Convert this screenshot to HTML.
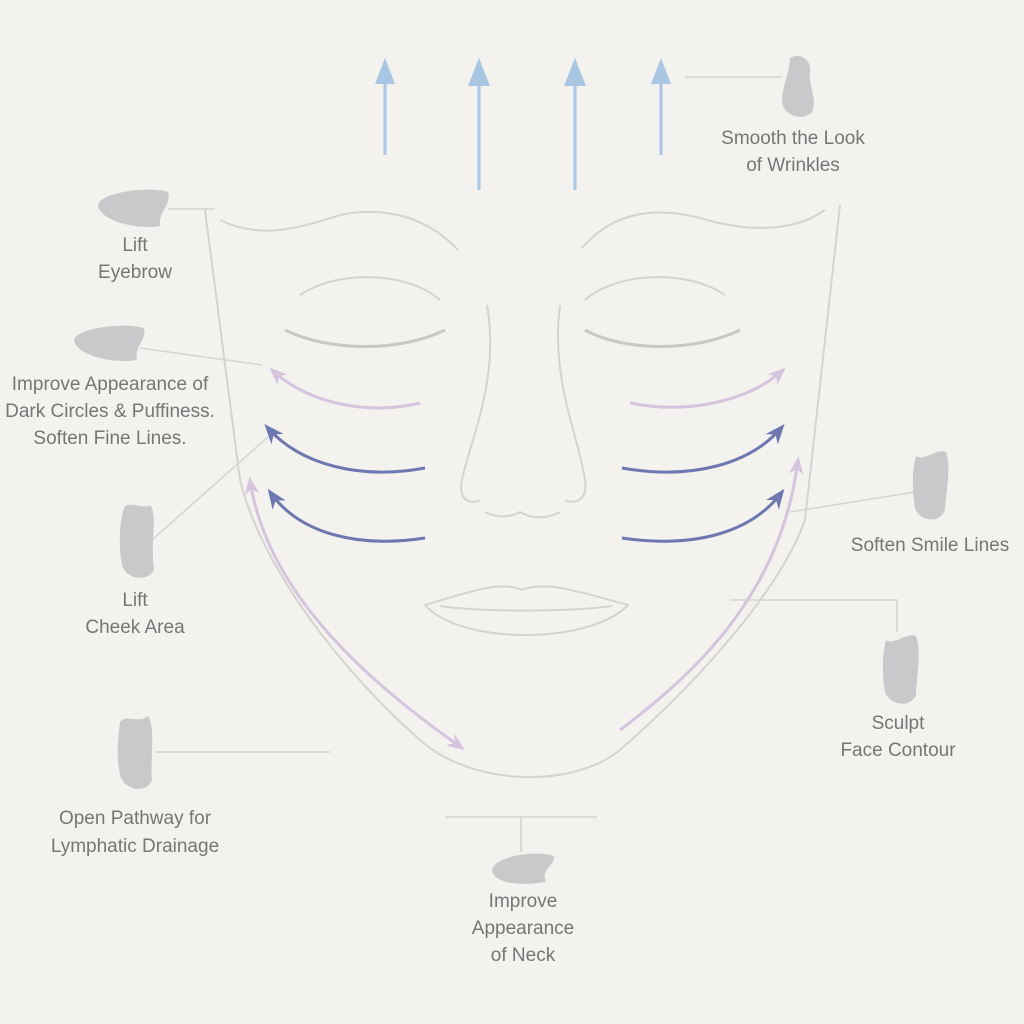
<!DOCTYPE html>
<html><head><meta charset="utf-8"><style>
html,body{margin:0;padding:0;background:#f3f2ee;}
svg{display:block}
text{font-family:"Liberation Sans",sans-serif;font-size:19px;fill:#767676;text-anchor:middle;}
</style></head><body>
<svg width="1024" height="1024" viewBox="0 0 1024 1024" xmlns="http://www.w3.org/2000/svg">
<defs>
<marker id="mb" viewBox="0 0 10 10" refX="8" refY="5" markerWidth="7" markerHeight="7" orient="auto-start-reverse" markerUnits="userSpaceOnUse"><path d="M0,0 L10,5 L0,10 z" fill="#a9c6e4"/></marker>
<marker id="mp" viewBox="0 0 10 10" refX="8" refY="5" markerWidth="18" markerHeight="18" orient="auto-start-reverse" markerUnits="userSpaceOnUse"><path d="M0,1 L10,5 L0,9 L3,5 z" fill="#d6c3de"/></marker>
<marker id="md" viewBox="0 0 10 10" refX="8" refY="5" markerWidth="20" markerHeight="20" orient="auto-start-reverse" markerUnits="userSpaceOnUse"><path d="M0,1 L10,5 L0,9 L3,5 z" fill="#6e78b0"/></marker>
</defs>
<rect width="1024" height="1024" fill="#f3f2ee"/>
<!-- up arrows -->
<g stroke="#a9c6e4" stroke-width="3" fill="none">
<line x1="385" y1="155" x2="385" y2="64" marker-end="url(#mb)"/>
<line x1="479" y1="190" x2="479" y2="64" marker-end="url(#mb)"/>
<line x1="575" y1="190" x2="575" y2="64" marker-end="url(#mb)"/>
<line x1="661" y1="155" x2="661" y2="64" marker-end="url(#mb)"/>
</g>
<polygon points="385,58 375,84 395,84" fill="#a9c6e4"/>
<polygon points="479,58 468,86 490,86" fill="#a9c6e4"/>
<polygon points="575,58 564,86 586,86" fill="#a9c6e4"/>
<polygon points="661,58 651,84 671,84" fill="#a9c6e4"/>
<!-- face -->
<g stroke="#d3d3d1" stroke-width="2" fill="none">
<path d="M205,210 L240,480 C260,560 330,660 420,740 C470,785 570,790 620,750 C700,680 780,590 805,520 L840,205"/>
<path d="M220,220 C260,240 300,228 340,215 C390,205 430,220 458,250"/>
<path d="M825,210 C790,235 740,230 700,218 C650,205 610,215 582,248"/>
<path d="M285,330 C330,352 400,352 445,330" stroke="#c8c8c6" stroke-width="3"/>
<path d="M300,295 C340,268 410,273 440,300"/>
<path d="M740,330 C695,352 625,352 585,330" stroke="#c8c8c6" stroke-width="3"/>
<path d="M725,295 C685,268 615,273 585,300"/>
<path d="M487,305 C500,380 470,440 462,480 C458,500 470,505 480,500"/>
<path d="M560,305 C550,380 580,440 585,480 C588,500 575,505 565,500"/>
<path d="M485,512 C500,520 515,515 520,512 C530,518 545,520 560,512"/>
<path d="M425,605 C470,592 500,580 522,590 C545,580 580,592 628,605 C590,645 460,645 425,605 Z"/>
<path d="M440,606 C480,612 570,612 612,606"/>
</g>
<!-- face arrows -->
<g fill="none" stroke-width="3">
<path d="M420,403 C370,415 310,405 272,370" stroke="#d6c3de" marker-end="url(#mp)"/>
<path d="M630,403 C690,415 750,400 783,370" stroke="#d6c3de" marker-end="url(#mp)"/>
<path d="M425,468 C360,480 300,465 267,427" stroke="#6e78b0" marker-end="url(#md)"/>
<path d="M622,468 C690,480 750,465 782,427" stroke="#6e78b0" marker-end="url(#md)"/>
<path d="M425,538 C360,548 300,535 270,492" stroke="#6e78b0" marker-end="url(#md)"/>
<path d="M622,538 C690,548 750,535 782,492" stroke="#6e78b0" marker-end="url(#md)"/>
<path d="M462,748 C380,690 268,600 250,480" stroke="#d6c3de" marker-start="url(#mp)" marker-end="url(#mp)"/>
<path d="M620,730 C700,670 782,590 798,460" stroke="#d6c3de" marker-end="url(#mp)"/>
</g>
<!-- leader lines -->
<g stroke="#d3d3d1" stroke-width="1.5" fill="none">
<line x1="685" y1="77" x2="782" y2="77"/>
<line x1="168" y1="209" x2="215" y2="209"/>
<line x1="140" y1="348" x2="262" y2="365"/>
<line x1="152" y1="540" x2="268" y2="437"/>
<line x1="155" y1="752" x2="330" y2="752"/>
<line x1="445" y1="817" x2="597" y2="817"/>
<line x1="521" y1="817" x2="521" y2="852"/>
<line x1="915" y1="492" x2="790" y2="512"/>
<polyline points="730,600 897,600 897,632"/>
</g>
<!-- stones -->
<g fill="#c9c9cb">
<path d="M790,58 C800,52 812,60 810,72 C808,85 818,100 812,112 C805,120 790,118 784,108 C778,95 788,82 790,58 Z"/>
<path d="M98,205 C100,192 150,186 168,192 C172,205 158,212 160,226 C140,230 100,222 98,205 Z"/>
<path d="M74,340 C76,328 125,322 144,328 C147,340 134,346 137,360 C115,364 76,356 74,340 Z"/>
<path d="M124,508 C128,500 145,510 150,505 C158,515 150,540 154,570 C148,582 126,580 122,565 C118,545 120,520 124,508 Z"/>
<path d="M120,722 C126,714 140,724 148,716 C156,728 150,760 152,780 C146,795 124,790 120,775 C116,755 118,740 120,722 Z"/>
<path d="M492,870 C495,856 535,850 554,856 C555,866 540,870 546,882 C520,886 494,884 492,870 Z"/>
<path d="M916,456 C925,462 935,448 946,452 C952,470 945,495 945,510 C940,524 920,522 915,508 C912,490 912,470 916,456 Z"/>
<path d="M886,640 C894,646 906,632 916,636 C922,654 916,680 916,695 C911,708 890,706 885,692 C882,675 882,655 886,640 Z"/>
</g>
<!-- labels -->
<text x="793" y="144">Smooth the Look</text>
<text x="793" y="171">of Wrinkles</text>
<text x="135" y="251">Lift</text>
<text x="135" y="278">Eyebrow</text>
<text x="110" y="390">Improve Appearance of</text>
<text x="110" y="417">Dark Circles &amp; Puffiness.</text>
<text x="110" y="444">Soften Fine Lines.</text>
<text x="135" y="606">Lift</text>
<text x="135" y="633">Cheek Area</text>
<text x="135" y="824">Open Pathway for</text>
<text x="135" y="852">Lymphatic Drainage</text>
<text x="523" y="907">Improve</text>
<text x="523" y="934">Appearance</text>
<text x="523" y="961">of Neck</text>
<text x="930" y="551">Soften Smile Lines</text>
<text x="898" y="729">Sculpt</text>
<text x="898" y="756">Face Contour</text>
</svg>
</body></html>
